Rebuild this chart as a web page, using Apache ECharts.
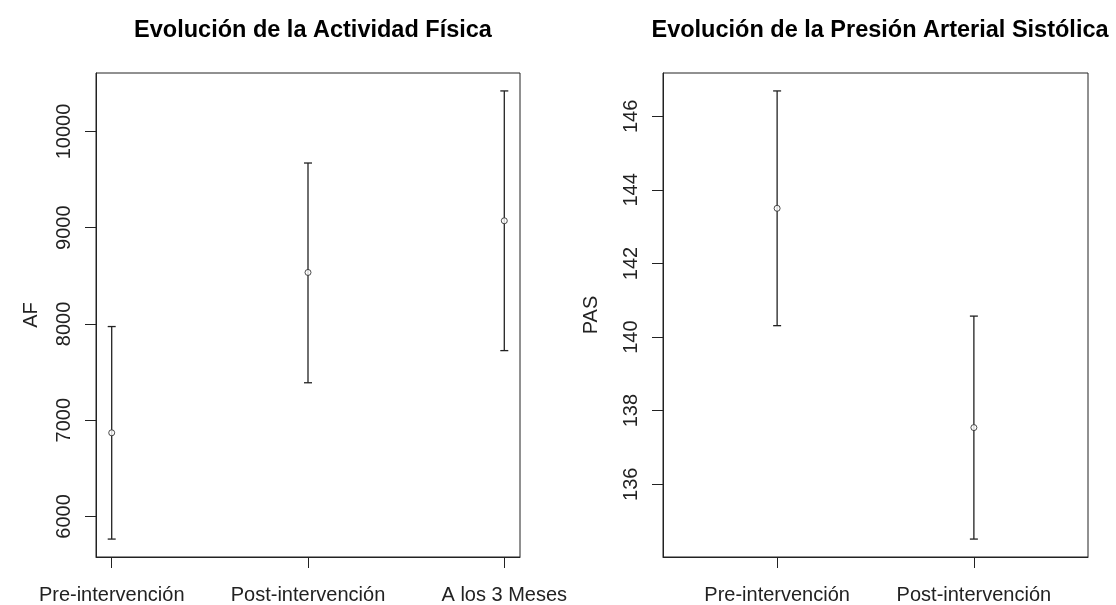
<!DOCTYPE html>
<html>
<head>
<meta charset="utf-8">
<script src="https://cdn.jsdelivr.net/npm/echarts@6/dist/echarts.min.js"></script>
<style>
html, body { margin: 0; background: #fff; }
#chart { width: 1116px; height: 605px; }
</style>
</head>
<body>
<div id="chart"></div>
<script>
// actividad fisica (AF)
var afCategories = ['Pre-intervención', 'Post-intervención', 'A los 3 Meses'];
var afMean  = [6869, 8535, 9072];
var afLower = [5765, 7389, 7723];
var afUpper = [7973, 9672, 10421];
var afTicks = [6000, 7000, 8000, 9000, 10000];

// presion arterial sistolica (PAS)
var pasCategories = ['Pre-intervención', 'Post-intervención'];
var pasMean  = [143.5, 137.54];
var pasLower = [140.31, 134.51];
var pasUpper = [146.69, 140.57];
var pasTicks = [136, 138, 140, 142, 144, 146];

var ink = '#222';
var font = 'Liberation Sans, Arial, sans-serif';

// como R: rango de los datos + 4% a cada lado
var padRange = function (lo, hi) {
    var d = (hi - lo) * 0.04;
    return [lo - d, hi + d];
};

var xAxisFor = function (idx, cats, range) {
    var vals = [];
    for (var i = 0; i < cats.length; i++) vals.push(i + 1);
    return {
        type: 'value', gridIndex: idx, min: range[0], max: range[1],
        splitLine: { show: false },
        axisLine: { show: true, lineStyle: { color: ink, width: 1 } },
        axisTick: { show: true, length: 11, lineStyle: { color: ink }, customValues: vals },
        axisLabel: {
            customValues: vals, margin: 28, color: ink, fontFamily: font, fontSize: 20,
            formatter: function (v) { return cats[Math.round(v) - 1]; }
        }
    };
};

var yAxisFor = function (idx, name, ticks, range, gap) {
    return {
        type: 'value', gridIndex: idx, min: range[0], max: range[1],
        name: name, nameLocation: 'middle', nameGap: gap, nameRotate: 90,
        nameTextStyle: { color: ink, fontFamily: font, fontSize: 20 },
        splitLine: { show: false },
        axisLine: { show: true, lineStyle: { color: ink, width: 1 } },
        axisTick: { show: true, length: 11, lineStyle: { color: ink }, customValues: ticks },
        axisLabel: {
            customValues: ticks, rotate: 90, margin: 22, color: ink,
            fontFamily: font, fontSize: 20,
            formatter: function (v) { return String(v); }
        }
    };
};

var renderBar = function (params, api) {
    var x = api.value(0);
    var lo = api.coord([x, api.value(1)]);
    var hi = api.coord([x, api.value(2)]);
    var w = 4;
    var st = { stroke: ink, lineWidth: 1.3 };
    return {
        type: 'group',
        children: [
            { type: 'line', shape: { x1: lo[0], y1: lo[1], x2: hi[0], y2: hi[1] }, style: st },
            { type: 'line', shape: { x1: lo[0] - w, y1: lo[1], x2: lo[0] + w, y2: lo[1] }, style: st },
            { type: 'line', shape: { x1: hi[0] - w, y1: hi[1], x2: hi[0] + w, y2: hi[1] }, style: st }
        ]
    };
};

var barData = function (lower, upper) {
    var out = [];
    for (var i = 0; i < lower.length; i++) out.push([i + 1, lower[i], upper[i]]);
    return out;
};
var meanData = function (mean) {
    var out = [];
    for (var i = 0; i < mean.length; i++) out.push([i + 1, mean[i]]);
    return out;
};

var afY = padRange(Math.min.apply(null, afLower), Math.max.apply(null, afUpper));
var pasY = padRange(Math.min.apply(null, pasLower), Math.max.apply(null, pasUpper));

var titleStyle = { color: '#000', fontFamily: font, fontSize: 23.5, fontWeight: 'bold' };

var chart = echarts.init(document.getElementById('chart'));
chart.setOption({
    animation: false,
    backgroundColor: '#fff',
    title: [
        { text: 'Evolución de la Actividad Física', left: 308, top: 14, textAlign: 'center', textStyle: titleStyle },
        { text: 'Evolución de la Presión Arterial Sistólica', left: 875, top: 14, textAlign: 'center', textStyle: titleStyle }
    ],
    grid: [
        { left: 96, top: 73, width: 424, height: 486, show: true, borderColor: ink, borderWidth: 1 },
        { left: 663, top: 73, width: 425, height: 486, show: true, borderColor: ink, borderWidth: 1 }
    ],
    xAxis: [
        xAxisFor(0, afCategories, [0.92, 3.08]),
        xAxisFor(1, pasCategories, [0.42, 2.58])
    ],
    yAxis: [
        yAxisFor(0, 'AF', afTicks, afY, 55),
        yAxisFor(1, 'PAS', pasTicks, pasY, 62)
    ],
    series: [
        { type: 'custom', xAxisIndex: 0, yAxisIndex: 0, renderItem: renderBar,
          encode: { x: 0, y: [1, 2] }, data: barData(afLower, afUpper) },
        { type: 'scatter', xAxisIndex: 0, yAxisIndex: 0, symbol: 'circle', symbolSize: 6, z: 5,
          itemStyle: { color: '#fff', borderColor: ink, borderWidth: 1 }, data: meanData(afMean) },
        { type: 'custom', xAxisIndex: 1, yAxisIndex: 1, renderItem: renderBar,
          encode: { x: 0, y: [1, 2] }, data: barData(pasLower, pasUpper) },
        { type: 'scatter', xAxisIndex: 1, yAxisIndex: 1, symbol: 'circle', symbolSize: 6, z: 5,
          itemStyle: { color: '#fff', borderColor: ink, borderWidth: 1 }, data: meanData(pasMean) }
    ]
});
</script>
</body>
</html>
